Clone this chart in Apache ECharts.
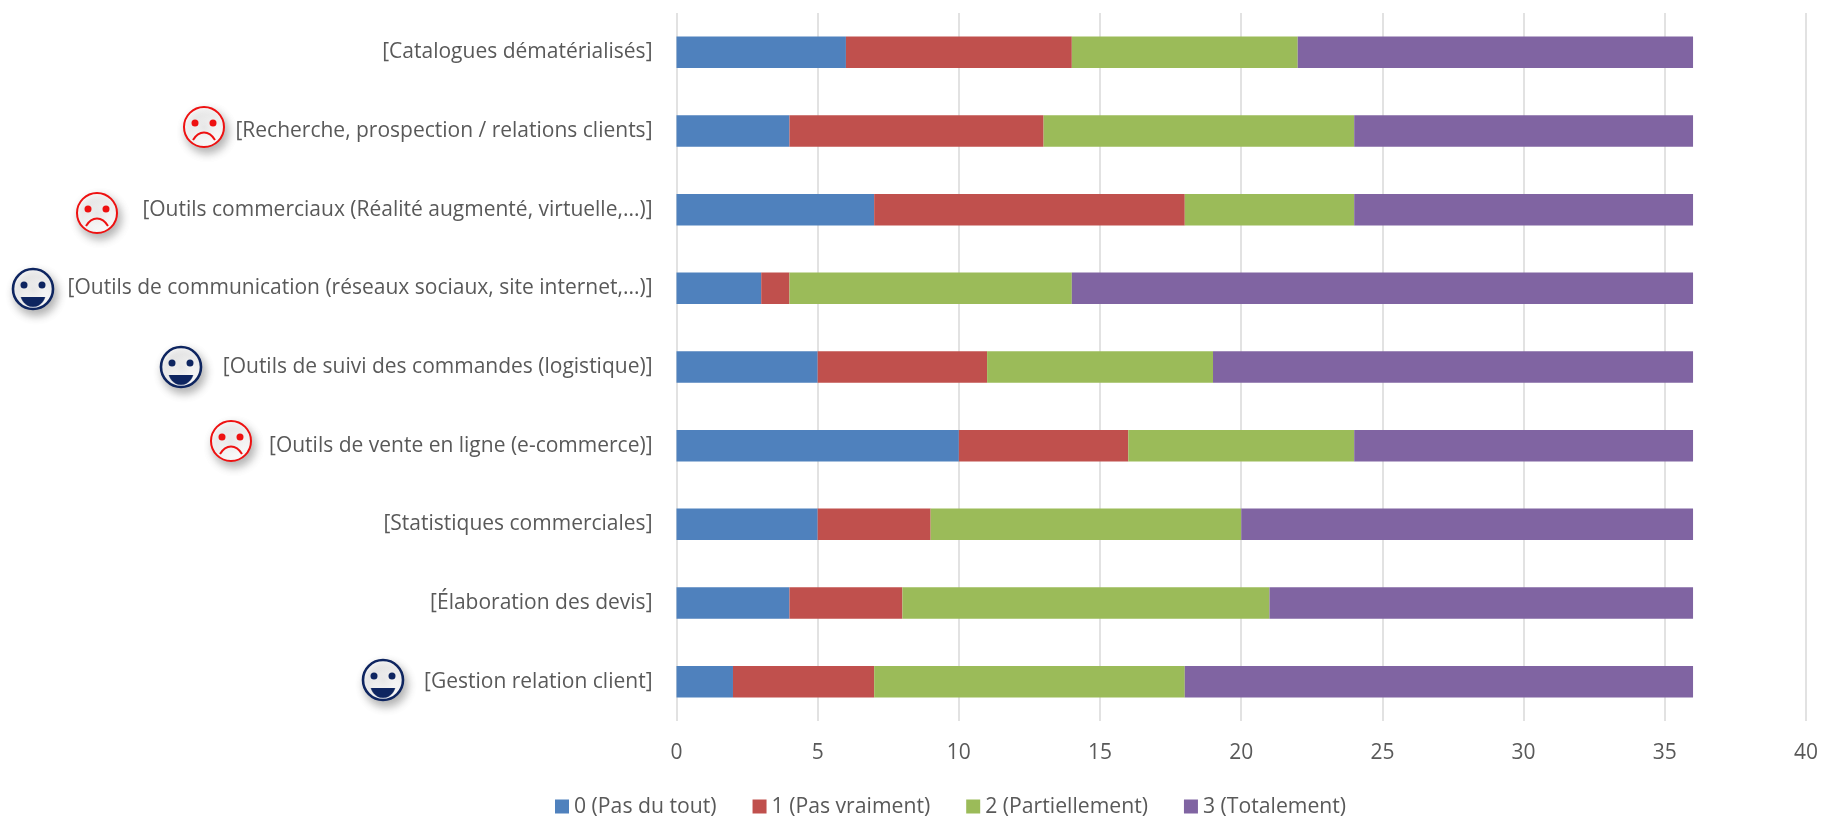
<!DOCTYPE html>
<html><head><meta charset="utf-8">
<style>html,body{margin:0;padding:0;background:#fff}#c{width:1821px;height:816px}</style>
<script src="https://cdn.jsdelivr.net/npm/echarts@6/dist/echarts.min.js"></script>
</head><body><div id="c"></div>
<script>
const categories=["[Catalogues dématérialisés]","[Recherche, prospection / relations clients]","[Outils commerciaux (Réalité augmenté, virtuelle,...)]","[Outils de communication (réseaux sociaux, site internet,...)]","[Outils de suivi des commandes (logistique)]","[Outils de vente en ligne (e-commerce)]","[Statistiques commerciales]","[Élaboration des devis]","[Gestion relation client]"];
const pasDuTout=[6,4,7,3,5,10,5,4,2];
const pasVraiment=[8,9,11,1,6,6,4,4,5];
const partiellement=[8,11,6,10,8,8,11,13,11];
const totalement=[14,12,12,22,17,12,16,15,18];
const seriesNames=["0 (Pas du tout)","1 (Pas vraiment)","2 (Partiellement)","3 (Totalement)"];
const colors=["#4F81BD","#C0504D","#9BBB59","#8064A2"];
const font="Open Sans";
const smileys=[["sad",204,127],["sad",97,213],["happy",33,289],["happy",181,367],["sad",231,441],["happy",383,680]];
function smiley(kind,cx,cy){
  const col=kind==="sad"?"#EE1111":"#0E2560";
  const r=20;
  const ch=[
    {type:"circle",shape:{cx:0,cy:0,r:r},style:{
      fill:new echarts.graphic.RadialGradient(0.5,0.5,0.5,[{offset:0,color:"#E6E6E6"},{offset:1,color:"#FFFFFF"}]),
      stroke:col,lineWidth:kind==="sad"?2:2.6,shadowBlur:10,shadowColor:"rgba(0,0,0,.3)",shadowOffsetX:3,shadowOffsetY:5}},
    {type:"circle",shape:{cx:-9,cy:-4,r:3.5},style:{fill:col}},
    {type:"circle",shape:{cx:9,cy:-4,r:3.5},style:{fill:col}}
  ];
  if(kind==="sad")ch.push({type:"bezierCurve",shape:{x1:-11,y1:13,x2:11,y2:13,cpx1:-5,cpy1:3,cpx2:5,cpy2:3},style:{fill:null,stroke:col,lineWidth:2}});
  else ch.push({type:"bezierCurve",shape:{x1:-12,y1:8,x2:12,y2:8,cpx1:-8,cpy1:21,cpx2:8,cpy2:21},style:{fill:col,stroke:col,lineWidth:0.5}});
  return {type:"group",x:cx,y:cy,silent:true,children:ch};
}
const values=[pasDuTout,pasVraiment,partiellement,totalement];
const chart=echarts.init(document.getElementById("c"),null,{renderer:"canvas"});
chart.setOption({
  animation:false,
  backgroundColor:"#fff",
  color:colors,
  grid:{left:676.5,right:13.5,top:13,bottom:95,containLabel:false},
  legend:{top:796,left:555,icon:"rect",itemWidth:14,itemHeight:14,itemGap:36,padding:0,selectedMode:false,
    textStyle:{fontFamily:font,fontSize:21.2,color:"#595959"},data:seriesNames},
  xAxis:{type:"value",min:0,max:40,interval:5,axisLine:{show:false},axisTick:{show:false},
    splitLine:{show:true,lineStyle:{color:"#D9D9D9",width:1.5}},
    axisLabel:{fontFamily:font,fontSize:21,color:"#595959",margin:22}},
  yAxis:{type:"category",inverse:true,data:categories,axisLine:{show:false},axisTick:{show:false},
    axisLabel:{fontFamily:font,fontSize:21,color:"#595959",margin:24,padding:[4,0,0,0]}},
  series:seriesNames.map((n,i)=>({name:n,type:"bar",stack:"t",barWidth:"40%",data:values[i],itemStyle:{color:colors[i]}})),
  graphic:smileys.map(s=>smiley(s[0],s[1],s[2]))
});
</script></body></html>
